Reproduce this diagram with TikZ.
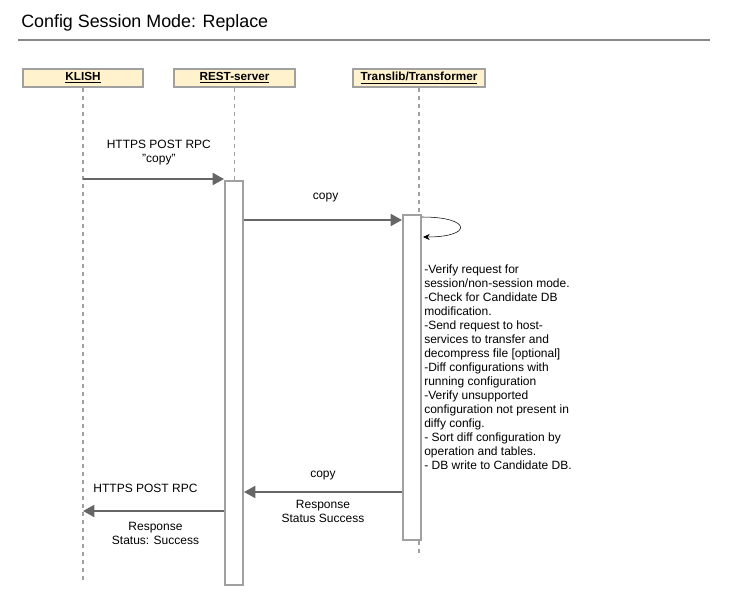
\documentclass[tikz,border=0pt]{standalone}
\usepackage{fontspec}
\setmainfont{Liberation Sans}
\usepackage{xcolor}
\usepackage{tikz}
\usetikzlibrary{arrows.meta,positioning}
\definecolor{headfill}{HTML}{FFF2CC}
\definecolor{boxline}{HTML}{A0A0A0}
\definecolor{msgline}{HTML}{666666}
\tikzset{
  every picture/.style = {
    x = 0.75pt,
    y = -0.75pt,
  }
  ,
  head/.style = {
    rectangle,
    draw = boxline,
    fill = headfill,
    line width = 1.5pt,
    font = \fontsize{8.8}{10}\selectfont\bfseries,
    minimum height = 14pt,
    inner sep = 0pt
  }
  , % activation bars
  act/.style = {
    rectangle,
    draw = boxline,
    fill = white,
    line width = 1.5pt,
    minimum width = 13.5pt,
    inner sep = 0pt
  }
  , % lifelines
  life/.style = {
    draw = boxline,
    line width = 1.2pt,
    dash pattern = on 3pt off 3pt
  }
  , % messages
  msg/.style = {
    draw = msgline,
    line width = 1.5pt,
    -{Triangle[length=8.5pt,width=9pt]}
  }
  , % labels of messages
  label-msg/.style = {
    font = \fontsize{9}{10.5}\selectfont,
    align = center,
    inner sep = 0pt
  }
}

\begin{document}
\begin{tikzpicture}
		\useasboundingbox (0,0) rectangle (744,606);
		\node at (21,23) [anchor=west, inner sep=0pt, font=\fontsize{13.4}{16}\selectfont] (title) {Config Session Mode: Replace};
		\draw [boxline!85!black, line width=1.5pt] (18,40) -- (710,40);

		\node at (83,78) [head, minimum width=90pt] (klish) {\underline{KLISH}};
		\node at (234.5,78) [head, minimum width=90.75pt] (rest) {\underline{REST-server}};
		\node at (419,78) [head, minimum width=99pt] (trans) {\underline{Translib/Transformer}};

		\node at (234,383) [act, minimum height=303pt] (ract) {};
		\node at (412,377.5) [act, minimum height=243.75pt] (tact) {};

		\coordinate (kend) at (83,582);
		\coordinate (tend) at (419,557);
		\coordinate (y1) at (0,179);
		\coordinate (y2) at (0,220);
		\coordinate (y3) at (0,492);
		\coordinate (y4) at (0,511);

		\path [life] (klish) -- (kend);
		\path [life] (rest) -- (rest |- ract.north);
		\path [life] (trans) -- (trans |- tact.north);
		\path [life] (trans |- tact.south) -- (tend);

		\path (klish |- y1) edge [msg] node [label-msg, xshift=4pt, yshift=19.5pt] {HTTPS POST RPC\\\char34 copy\char34} (ract.west |- y1);
		\path (ract.east |- y2) edge [msg] node [label-msg, xshift=2pt, yshift=16.5pt] {copy} (tact.west |- y2);

		\coordinate (loopa) at (422,217);
		\coordinate (loopb) at (423,237);
		\draw [thin, -{Stealth[length=5pt,width=4.5pt]}] (loopa) .. controls +(50,0) and +(50,0) .. (loopb);

		\node at (424,265) [anchor=north west, inner sep=0pt, align=left, font=\fontsize{9}{10.5}\selectfont] (note) {-Verify request for\\session/non-session mode.\\-Check for Candidate DB\\modification.\\-Send request to host-\\services to transfer and\\decompress file [optional]\\-Diff configurations with\\running configuration\\-Verify unsupported\\configuration not present in\\diffy config.\\- Sort diff configuration by\\operation and tables.\\- DB write to Candidate DB.};

		\path (tact.west |- y3) edge [msg] node [label-msg, yshift=12pt] {copy} node [label-msg, yshift=-14.25pt] {Response\\Status Success} (ract.east |- y3);
		\path (ract.west |- y4) edge [msg] node [label-msg, xshift=-6pt, yshift=17.25pt] {HTTPS POST RPC} node [label-msg, xshift=1.5pt, yshift=-16.9pt] {Response\\Status: Success} (klish |- y4);
		\end{tikzpicture}
\end{document}
